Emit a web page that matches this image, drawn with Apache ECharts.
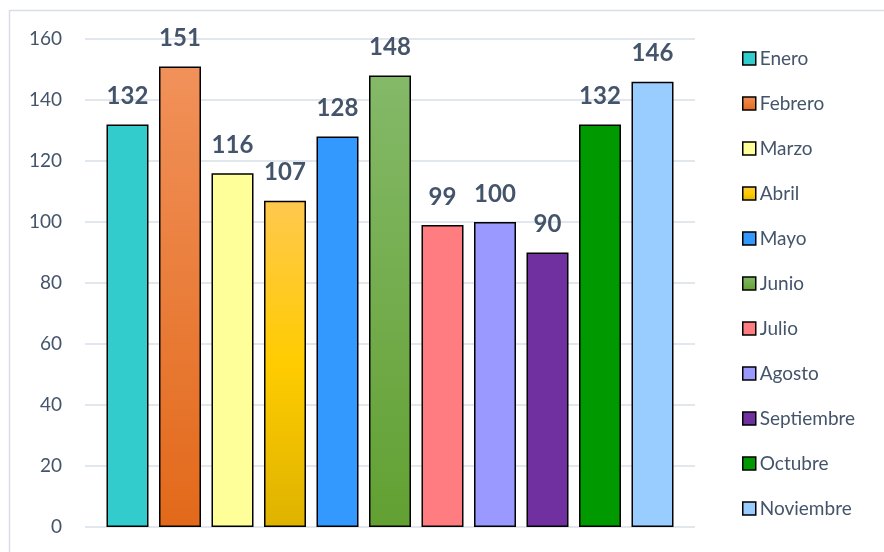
<!DOCTYPE html>
<html><head><meta charset="utf-8">
<script src="https://cdn.jsdelivr.net/npm/echarts@6/dist/echarts.min.js"></script>
<style>html,body{margin:0;padding:0;background:#fff}#c{width:884px;height:552px}</style>
</head><body><div id="c"></div>
<script>
const months = ['Enero','Febrero','Marzo','Abril','Mayo','Junio','Julio','Agosto','Septiembre','Octubre','Noviembre'];
const values = [132,151,116,107,128,148,99,100,90,132,146];
const yTicks = [0,20,40,60,80,100,120,140,160];
const colors = [
  '#33cccc',
  ['#f1915a','#e2691a'],
  '#ffff99',
  ['#ffc84e','#ffcc00','#deb200'],
  '#3399ff',
  ['#84b968','#62a032'],
  '#ff7c80',
  '#9999ff',
  '#7030a0',
  '#009900',
  '#99ccff'
];
function fill(c){
  if (typeof c === 'string') return c;
  const stops = c.map((col,i)=>({offset:i/(c.length-1),color:col}));
  return new echarts.graphic.LinearGradient(0,0,0,1,stops);
}
const txt = '#44546a';
const chart = echarts.init(document.getElementById('c'));
chart.setOption({
  animation:false,
  textStyle:{fontFamily:'Lato'},
  graphic:[{type:'rect',shape:{x:9.5,y:10.5,width:900,height:600},style:{fill:'none',stroke:'#d9dee6',lineWidth:1.5},z:-1}],
  grid:{left:85,right:189,top:39,bottom:25},
  legend:{
    orient:'vertical',left:737,top:44,itemWidth:13,itemHeight:13,itemGap:26,
    textStyle:{color:txt,fontSize:19,fontFamily:'Lato',padding:[0,0,0,-1]},
    itemStyle:{borderColor:'#000',borderWidth:1.5},
    data:months.map(m=>({name:m,icon:'rect'}))
  },
  xAxis:{type:'category',data:[''],axisLine:{show:false},axisTick:{show:false},axisLabel:{show:false}},
  yAxis:{type:'value',min:yTicks[0],max:yTicks[yTicks.length-1],interval:20,
    axisLabel:{color:txt,fontSize:19,margin:23,fontFamily:'Lato'},
    splitLine:{lineStyle:{color:'#d9dfe7',width:1.5}},axisLine:{show:false},axisTick:{show:false}},
  series: months.map((m,i)=>({
    name:m,type:'bar',data:[values[i]],barWidth:42,barGap:'25%',
    itemStyle:{color:fill(colors[i]),borderColor:'#000',borderWidth:1.5},
    label:{show:true,position:'top',distance:16,color:txt,fontSize:24,fontWeight:'bold',fontFamily:'Lato'}
  }))
});
</script></body></html>
